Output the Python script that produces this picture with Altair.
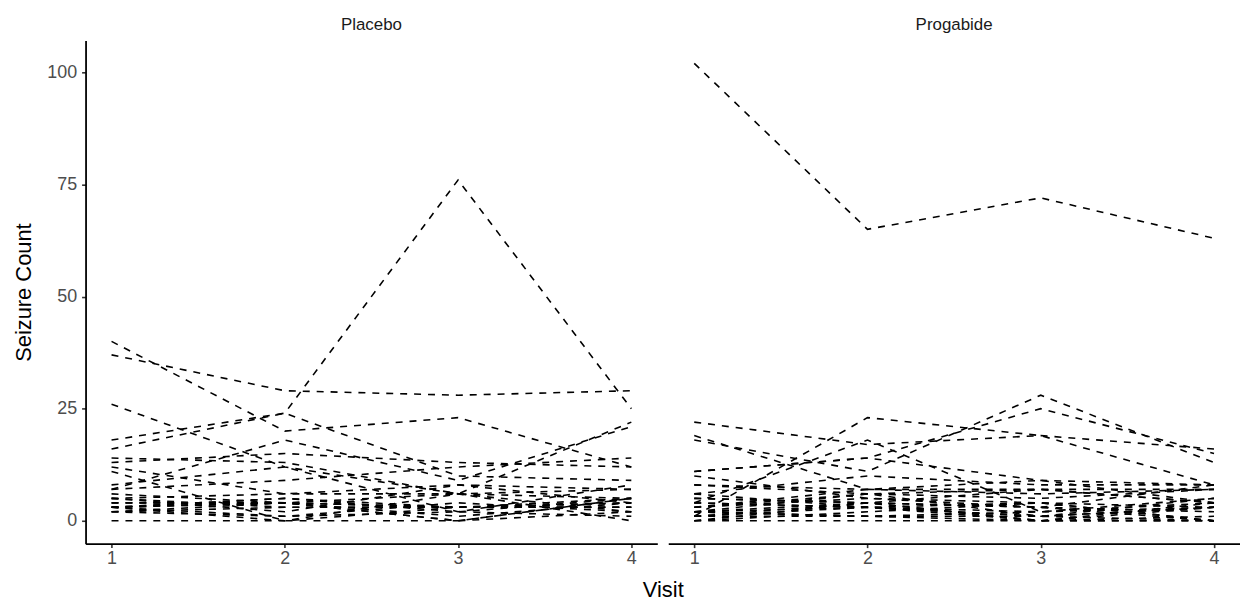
import altair as alt
import pandas as pd

visits = [1, 2, 3, 4]

# Placebo patients (28), seizure counts per visit
placebo_v1 = [5, 3, 2, 4, 7, 5, 6, 40, 5, 14, 26, 12, 4, 7, 16, 11, 0, 37, 3, 3, 3, 3, 2, 8, 18, 2, 3, 13]
placebo_v2 = [3, 5, 4, 4, 18, 2, 4, 20, 6, 13, 12, 6, 4, 9, 24, 0, 0, 29, 5, 0, 4, 4, 3, 12, 24, 1, 1, 15]
placebo_v3 = [3, 3, 0, 1, 9, 8, 0, 23, 6, 6, 6, 8, 6, 12, 10, 0, 3, 28, 2, 6, 3, 3, 3, 2, 76, 2, 4, 13]
placebo_v4 = [3, 3, 5, 4, 21, 7, 2, 12, 5, 0, 22, 4, 2, 14, 9, 5, 3, 29, 5, 7, 4, 4, 5, 8, 25, 1, 2, 12]

# Progabide patients (31)
progabide_v1 = [11, 8, 0, 3, 2, 4, 22, 5, 2, 3, 4, 2, 0, 5, 11, 10, 19, 1, 6, 2, 102, 4, 8, 1, 18, 6, 3, 1, 2, 0, 1]
progabide_v2 = [14, 7, 4, 6, 6, 3, 17, 4, 4, 7, 18, 1, 2, 4, 14, 5, 7, 1, 10, 1, 65, 3, 6, 3, 11, 3, 5, 23, 3, 0, 4]
progabide_v3 = [9, 9, 3, 1, 7, 1, 19, 7, 0, 7, 2, 1, 4, 0, 25, 3, 6, 2, 8, 0, 72, 2, 5, 1, 28, 4, 4, 19, 0, 0, 3]
progabide_v4 = [8, 4, 0, 3, 4, 3, 16, 4, 4, 7, 5, 0, 0, 3, 15, 8, 7, 3, 8, 0, 63, 4, 7, 5, 13, 0, 3, 8, 1, 0, 2]

y_ticks = [0, 25, 50, 75, 100]

rows = []
pid = 0
for name, cols in [("Placebo", [placebo_v1, placebo_v2, placebo_v3, placebo_v4]),
                   ("Progabide", [progabide_v1, progabide_v2, progabide_v3, progabide_v4])]:
    for i in range(len(cols[0])):
        pid += 1
        for v, col in zip(visits, cols):
            rows.append({"id": pid, "treatment": name, "visit": v, "count": col[i]})
df = pd.DataFrame(rows)

FONT = "Liberation Sans"

base = alt.Chart(df).mark_line(
    strokeDash=[7, 7], strokeWidth=1.6, color="black", clip=True
).encode(
    x=alt.X("visit:Q",
            scale=alt.Scale(domain=[0.85, 4.15], nice=False, zero=False),
            axis=alt.Axis(values=visits, format="d", title=None, labelPadding=2)),
    y=alt.Y("count:Q",
            scale=alt.Scale(domain=[-5.1, 107.1], nice=False, zero=False),
            axis=alt.Axis(values=y_ticks, title="Seizure Count", labelPadding=5,
                          titlePadding=11)),
    detail="id:N",
).properties(width=575, height=506)

chart = base.facet(
    column=alt.Column("treatment:N",
                      header=alt.Header(title="Visit", titleOrient="bottom",
                                        labelOrient="top", labelFontSize=17,
                                        labelColor="#1A1A1A", labelFont=FONT,
                                        labelPadding=7,
                                        titleFontSize=22, titleColor="black",
                                        titleFont=FONT, titleFontWeight="normal",
                                        titlePadding=3)),
    spacing=11,
).properties(
    padding={"left": 4, "top": 6, "right": 0, "bottom": 0}
).configure_view(stroke=None).configure_axis(
    grid=False,
    domainColor="black", domainWidth=1.8,
    tickColor="#333333", tickWidth=1.6, tickSize=4,
    labelFont=FONT, labelFontSize=18, labelColor="#4D4D4D",
    titleFont=FONT, titleFontSize=22, titleColor="black", titleFontWeight="normal",
)

chart.save("out.html", embed_options={"renderer": "svg", "actions": False})
